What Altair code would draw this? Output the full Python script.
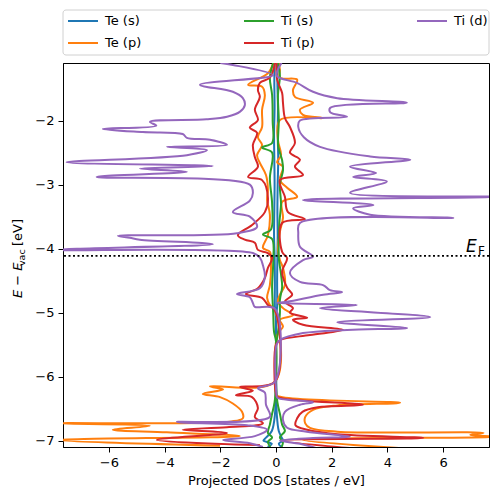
import altair as alt
import pandas as pd

SERIES = ["Te (s)", "Te (p)", "Ti (s)", "Ti (p)", "Ti (d)"]
COLORS = ["#1f77b4", "#ff7f0e", "#2ca02c", "#d62728", "#9467bd"]
E_FERMI = -4.114

# ---- Te (s) ----
te_s_up_E = [-1.1, -1.4, -1.8, -2.2, -2.6, -3.0, -3.4, -3.8, -4.1, -4.5, -4.9, -5.05, -6.1, -6.6, -6.85, -6.95, -7.0, -7.05, -7.1]
te_s_up_D = [0.06, 0.05, 0.07, 0.06, 0.08, 0.06, 0.05, 0.06, 0.05, 0.04, 0.04, 0.01, 0.01, 0.03, 0.1, 0.2, 0.25, 0.1, 0.2]
te_s_dn_E = [-1.1, -1.4, -1.8, -2.2, -2.6, -3.0, -3.4, -3.8, -4.1, -4.5, -4.9, -5.05, -6.1, -6.6, -6.85, -6.95, -7.0, -7.05, -7.1]
te_s_dn_D = [-0.05, -0.06, -0.05, -0.07, -0.06, -0.05, -0.06, -0.07, -0.05, -0.04, -0.04, -0.01, -0.01, -0.04, -0.15, -0.35, -0.45, -0.15, -0.3]

# ---- Te (p) ----
te_p_up_E = [-1.1, -1.21, -1.33, -1.36, -1.52, -1.63, -1.72, -1.83, -1.91, -1.96, -1.99, -2.3, -2.54, -2.65, -2.72, -2.93,
             -3.05, -3.19, -3.27, -3.52, -3.74, -4.02, -4.18, -4.3, -4.57, -4.72, -4.83, -4.93, -5.04, -5.11, -5.22, -5.32,
             -5.45, -6.25, -6.3, -6.41, -6.45, -6.52, -6.63, -6.73, -6.8, -6.86, -6.88, -6.91, -6.94, -6.99, -7.15]
te_p_up_D = [0.1, 0.14, 0.14, 0.76, 0.61, 0.68, 1.33, 0.86, 0.97, 1.69, 0.14, 0.07, 0.18, 0.04, 0.25, 0.14,
             0.4, 0.76, 0.22, 0.25, 0.14, 0.07, 0.14, 0.25, 0.32, 0.14, 0.07, 0.25, 0.61, 0.14, 0.25, 0.07,
             0.0, 0.0, 0.05, 4.46, 2.2, 1.33, 1.05, 1.05, 1.22, 2.2, 7.45, 6.98, 7.9, 0.97, 5.65]
te_p_dn_E = [-1.1, -1.26, -1.44, -1.47, -1.6, -1.83, -2.1, -2.26, -2.38, -2.54, -2.66, -2.85, -3.08, -3.24, -3.47, -3.79,
             -3.99, -4.05, -4.26, -4.57, -4.77, -4.88, -4.96, -6.08, -6.15, -6.2, -6.27, -6.32, -6.42, -6.55, -6.65,
             -6.7, -6.73, -6.77, -6.83, -6.87, -6.93, -6.99, -7.08]
te_p_dn_D = [-0.1, -0.29, -1.0, -0.5, -0.4, -0.5, -0.5, -0.65, -0.5, -0.68, -0.58, -0.36, -0.29, -0.32, -0.22, -0.29,
             -0.47, -0.22, -0.18, -0.22, -0.32, -0.22, -0.04, -0.04, -2.37, -1.9, -2.63, -2.01, -1.55, -1.22, -1.19,
             -1.6, -7.9, -4.53, -5.86, -3.92, -1.3, -7.9, -2.01]

# ---- Ti (s) ----
ti_s_up_E = [-1.1, -1.3, -1.6, -2.0, -2.4, -2.62, -2.78, -3.0, -3.3, -3.6, -3.9, -4.15, -4.4, -4.6, -4.8, -5.0, -5.2,
             -5.4, -5.5, -6.1, -6.4, -6.6, -6.75, -6.85, -6.95, -7.02, -7.1]
ti_s_up_D = [0.07, 0.14, 0.07, 0.1, 0.08, 0.22, 0.25, 0.14, 0.18, 0.12, 0.1, 0.1, 0.18, 0.22, 0.14, 0.14, 0.1,
             0.04, 0.0, 0.0, 0.05, 0.15, 0.22, 0.32, 0.14, 0.25, 0.2]
ti_s_dn_E = [-1.1, -1.33, -1.6, -2.0, -2.35, -2.42, -2.5, -2.9, -3.3, -3.7, -3.78, -3.85, -4.2, -4.6, -5.0, -5.3,
             -5.45, -6.1, -6.4, -6.6, -6.75, -6.88, -6.95, -7.02, -7.1]
ti_s_dn_D = [-0.1, -0.22, -0.14, -0.12, -0.14, -0.5, -0.14, -0.22, -0.14, -0.18, -0.47, -0.14, -0.1, -0.14, -0.1,
             -0.07, 0.0, 0.0, -0.05, -0.15, -0.22, -0.29, -0.14, -0.29, -0.2]

# ---- Ti (p) ----
ti_p_up_E = [-1.1, -1.36, -1.57, -1.72, -1.96, -2.1, -2.35, -2.5, -2.61, -2.72, -2.85, -2.93, -3.19, -3.43, -3.54,
             -3.6, -4.05, -4.15, -4.36, -4.61, -4.72, -4.83, -4.93, -5.0, -5.08, -5.11, -5.19, -5.27, -5.35, -5.43,
             -5.5, -6.28, -6.32, -6.44, -6.48, -6.55, -6.65, -6.76, -6.83, -6.9, -6.96, -7.0, -7.12]
ti_p_up_D = [0.02, 0.04, 0.22, 0.25, 0.32, 0.5, 0.68, 0.5, 0.86, 0.68, 0.97, 0.14, 0.32, 0.43, 1.04,
             0.22, 0.22, 0.4, 0.22, 0.4, 0.58, 0.32, 0.61, 0.5, 1.12, 0.61, 0.97, 2.41, 1.22, 0.14,
             0.0, 0.0, 0.05, 3.13, 1.5, 0.95, 0.76, 0.7, 1.12, 2.2, 5.29, 0.25, 2.77]
ti_p_dn_E = [-1.1, -1.33, -1.41, -1.52, -1.63, -1.83, -1.99, -2.11, -2.19, -2.38, -2.57, -2.72, -2.88, -2.93, -3.21,
             -3.43, -3.63, -3.79, -3.86, -3.91, -4.02, -4.07, -4.15, -4.3, -4.46, -4.62, -4.71, -4.77, -4.88, -4.96,
             -6.08, -6.16, -6.22, -6.29, -6.32, -6.49, -6.63, -6.73, -6.79, -6.83, -6.88, -6.99, -7.07]
ti_p_dn_D = [-0.04, -0.22, -0.58, -0.65, -0.58, -0.76, -0.65, -0.94, -0.68, -0.83, -0.76, -0.65, -1.0, -0.5, -0.29,
             -0.4, -0.86, -1.37, -1.12, -0.76, -0.65, -0.29, -0.14, -0.29, -0.4, -0.65, -1.08, -0.5, -0.29, -0.04,
             -0.04, -1.29, -0.83, -1.44, -0.86, -0.65, -0.76, -0.47, -1.76, -3.35, -1.76, -4.28, -0.58]

# ---- Ti (d) ----
ti_d_up_E = [-1.1, -1.3, -1.41, -1.55, -1.65, -1.72, -1.8, -1.87, -1.94, -2.0, -2.1, -2.26, -2.41, -2.56, -2.61,
             -2.72, -2.82, -2.88, -2.95, -3.13, -3.19, -3.24, -3.32, -3.37, -3.47, -3.52, -3.6, -3.76, -3.97, -4.125,
             -4.18, -4.38, -4.52, -4.57, -4.65, -4.68, -4.72, -4.83, -4.85, -4.88, -4.93, -5.07, -5.15, -5.24, -5.27,
             -5.32, -5.43, -5.5, -6.28, -6.33, -6.4, -6.44, -6.55, -6.68, -6.8, -6.86, -6.94, -6.96, -7.0, -7.05, -7.12]
ti_d_up_D = [0.2, 0.03, 0.75, 1.33, 2.2, 4.7, 1.95, 1.95, 2.55, 0.86, 0.8, 1.0, 1.58, 3.38, 4.82,
             2.66, 3.6, 2.77, 3.98, 2.66, 7.9, 0.97, 3.5, 2.77, 3.38, 6.37, 0.86, 0.8, 0.86, 1.33,
             0.97, 0.5, 0.86, 1.69, 1.94, 2.37, 1.69, 0.4, 0.04, 2.9, 1.58, 5.54, 2.2, 4.71, 2.55,
             0.97, 0.14, 0.02, 0.02, 0.05, 1.33, 0.86, 0.32, 0.25, 0.4, 1.1, 2.66, 1.33, 0.14, 0.86, 1.47]
ti_d_dn_E = [-1.1, -1.13, -1.29, -1.44, -1.55, -1.65, -1.76, -1.86, -1.94, -1.98, -2.02, -2.08, -2.13, -2.18, -2.21,
             -2.27, -2.3, -2.38, -2.41, -2.46, -2.54, -2.65, -2.71, -2.75, -2.8, -2.88, -3.0, -3.13, -3.25, -3.43,
             -3.5, -3.66, -3.76, -3.8, -3.83, -3.86, -3.93, -4.02, -4.07, -4.14, -4.26, -4.44, -4.62, -4.71, -4.76,
             -4.85, -4.91, -4.94, -6.08, -6.18, -6.25, -6.44, -6.63, -6.71, -6.76, -6.83, -6.93, -6.99, -7.04, -7.1]
ti_d_dn_D = [-2.0, -1.55, -0.1, -2.73, -1.55, -1.19, -1.12, -1.29, -1.76, -2.5, -4.53, -4.3, -6.22, -4.78, -3.35,
             -3.2, -2.37, -1.76, -3.92, -2.48, -3.2, -7.52, -2.27, -4.89, -3.2, -6.44, -0.94, -0.83, -0.94, -1.55,
             -0.94, -0.68, -1.4, -5.68, -5.25, -4.89, -2.27, -7.9, -0.83, -0.58, -0.47, -0.4, -0.58, -1.4, -0.94,
             -0.83, -0.76, -0.04, -0.04, -0.65, -0.4, -0.36, -0.22, -3.56, -1.04, -0.32, -0.76, -1.9, -0.94, -0.47]

BRANCHES = [
    ("Te (s)", "up", te_s_up_E, te_s_up_D), ("Te (s)", "down", te_s_dn_E, te_s_dn_D),
    ("Te (p)", "up", te_p_up_E, te_p_up_D), ("Te (p)", "down", te_p_dn_E, te_p_dn_D),
    ("Ti (s)", "up", ti_s_up_E, ti_s_up_D), ("Ti (s)", "down", ti_s_dn_E, ti_s_dn_D),
    ("Ti (p)", "up", ti_p_up_E, ti_p_up_D), ("Ti (p)", "down", ti_p_dn_E, ti_p_dn_D),
    ("Ti (d)", "up", ti_d_up_E, ti_d_up_D), ("Ti (d)", "down", ti_d_dn_E, ti_d_dn_D),
]

rows = []
for name, spin, Es, Ds in BRANCHES:
    for e, d in zip(Es, Ds):
        rows.append({"series": name, "spin": spin, "E": e, "dos": d})
df = pd.DataFrame(rows)

FONT = "DejaVu Sans"

x_enc = alt.X("dos:Q", scale=alt.Scale(domain=[-7.65, 7.65], nice=False, zero=False),
              axis=alt.Axis(values=[-6, -4, -2, 0, 2, 4, 6], format="~g", title="Projected DOS [states / eV]"))
y_enc = alt.Y("E:Q", scale=alt.Scale(domain=[-7.1, -1.1], nice=False, zero=False),
              axis=alt.Axis(values=[-7, -6, -5, -4, -3, -2], format="~g", title=None))
color_enc = alt.Color(
    "series:N",
    scale=alt.Scale(domain=SERIES, range=COLORS),
    legend=alt.Legend(title=None, orient="none", legendX=5, legendY=-57, columns=3,
                      symbolType="M-1.5,0L1.5,0", symbolSize=400, symbolStrokeWidth=2,
                      labelFontSize=13, labelFont=FONT, labelColor="black", labelOffset=11,
                      columnPadding=98, rowPadding=4, padding=4),
)

ef_df = pd.DataFrame({"E": [E_FERMI]})

# legend frame (drawn behind the legend entries)
legend_box = alt.Chart(ef_df).mark_rect(fill="white", stroke="#d0d0d0", strokeWidth=1, cornerRadius=3).encode(
    x=alt.value(0), x2=alt.value(426), y=alt.value(-53), y2=alt.value(-8))

layers = []
for s in SERIES:
    layers.append(
        alt.Chart(df).transform_filter(alt.datum.series == s)
        .mark_line(strokeWidth=2, clip=True, interpolate="catmull-rom")
        .encode(x=x_enc, y=y_enc, color=color_enc, detail="spin:N", order=alt.Order("E:Q"))
    )

ef_rule = alt.Chart(ef_df).mark_rule(color="black", strokeWidth=1.6, strokeDash=[2, 2.5]).encode(y="E:Q")
ef_E = alt.Chart(ef_df).mark_text(text="E", font=FONT, fontStyle="italic", fontSize=17, align="left",
                                  baseline="alphabetic", dy=-4, color="black").encode(x=alt.value(403), y="E:Q")
ef_F = alt.Chart(ef_df).mark_text(text="F", font=FONT, fontSize=12, align="left",
                                  baseline="alphabetic", dy=-1, color="black").encode(x=alt.value(415), y="E:Q")

ylab1 = alt.Chart(ef_df).mark_text(text="E − E", font=FONT, fontStyle="italic", fontSize=13, angle=270,
                                   align="left", baseline="middle", color="black").encode(x=alt.value(-45), y=alt.value(235))
ylab2 = alt.Chart(ef_df).mark_text(text="vac", font=FONT, fontSize=9.5, angle=270,
                                   align="left", baseline="middle", color="black").encode(x=alt.value(-41), y=alt.value(203))
ylab3 = alt.Chart(ef_df).mark_text(text="[eV]", font=FONT, fontSize=13, angle=270,
                                   align="left", baseline="middle", color="black").encode(x=alt.value(-45), y=alt.value(183))

chart = alt.layer(legend_box, *layers, ef_rule, ef_E, ef_F, ylab1, ylab2, ylab3).properties(
    width=426, height=384, autosize=alt.AutoSizeParams(type="none"),
    padding={"left": 55, "top": 55, "right": 1, "bottom": 45},
).configure_view(stroke="black", strokeWidth=1).configure_axis(
    labelFont=FONT, labelFontSize=13, labelColor="black", tickColor="black", domainColor="black",
    tickSize=5, tickWidth=1, domainWidth=1, labelPadding=4, grid=False,
    titleFont=FONT, titleFontSize=13, titleFontWeight="normal", titleColor="black", titlePadding=5,
)

chart.save("out.html", embed_options={"renderer": "svg", "actions": False})
